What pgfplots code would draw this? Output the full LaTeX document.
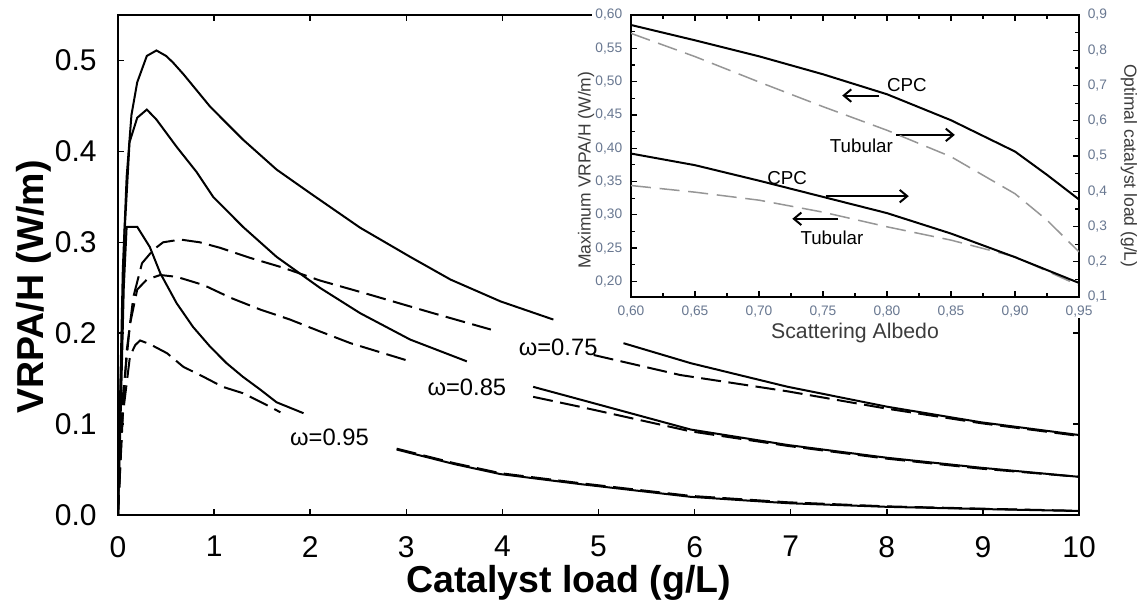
\documentclass[border=0pt]{standalone}
\usepackage{fontspec}
\setmainfont{Liberation Sans}
\usepackage{pgfplots}
\pgfplotsset{compat=1.18}
\usetikzlibrary{arrows.meta}
\definecolor{tickblue}{RGB}{105,120,145}
\definecolor{labgray}{RGB}{60,60,60}
\definecolor{dashgray}{RGB}{150,150,150}
\begin{document}
\begin{tikzpicture}
\useasboundingbox (-47.2pt,-35.6pt) rectangle (409.2pt,206pt);
\begin{axis}[
  at={(0,0)}, anchor=south west,
  scale only axis, width=384.4pt, height=200pt,
  xmin=0, xmax=10, ymin=0, ymax=0.55,
  xtick={0,1,2,3,4,5,6,7,8,9,10}, ytick={0,0.1,0.2,0.3,0.4,0.5},
  /pgf/number format/assume math mode=true,
  tick label style={font=\fontsize{12}{14}\selectfont},
  xticklabel style={yshift=-5pt},
  yticklabel style={xshift=-5pt, /pgf/number format/.cd, fixed, fixed zerofill, precision=1},
  xlabel={Catalyst load (g/L)}, ylabel={VRPA/H (W/m)},
  label style={font=\fontsize{15}{18}\selectfont\bfseries},
  xlabel style={at={(axis description cs:0.469,-0.136)}, anchor=center},
  ylabel style={at={(axis description cs:-0.0874,0.456)}, anchor=center},
  axis line style={line width=0.6pt},
  major tick length=2.5pt,
  every tick/.style={black, line width=0.6pt},
]
% omega = 0.75 CPC
\addplot[black, line width=0.8pt] coordinates {(0,0) (0.02,0.12) (0.05,0.27) (0.09,0.372) (0.14,0.44) (0.2,0.476) (0.3,0.505) (0.4,0.511) (0.5,0.505) (0.57,0.498) (0.68,0.485) (0.96,0.449) (1.3,0.413) (1.65,0.38) (2.0,0.354) (2.52,0.316) (3.04,0.284) (3.46,0.259) (3.98,0.235) (4.53,0.215)};
\addplot[black, line width=0.8pt] coordinates {(5.26,0.189) (5.96,0.167) (6.97,0.141) (8.01,0.119) (8.98,0.102) (10,0.088)};
% omega = 0.75 Tubular
\addplot[black, line width=0.8pt, dash pattern=on 8pt off 3pt] coordinates {(0,0) (0.04,0.094) (0.09,0.18) (0.16,0.24) (0.25,0.277) (0.37,0.292) (0.47,0.30) (0.65,0.303) (0.85,0.30) (1.06,0.294) (1.37,0.283) (1.72,0.272) (2.1,0.258) (2.6,0.243) (3.28,0.222) (3.88,0.204)};
\addplot[black, line width=0.8pt, dash pattern=on 8pt off 3pt] coordinates {(4.95,0.176) (5.85,0.154) (6.97,0.136) (8.0,0.117) (8.98,0.101) (10,0.087)};
% omega = 0.85 CPC
\addplot[black, line width=0.8pt] coordinates {(0,0) (0.03,0.15) (0.07,0.314) (0.12,0.41) (0.2,0.437) (0.3,0.446) (0.4,0.435) (0.61,0.405) (0.82,0.377) (0.99,0.35) (1.3,0.317) (1.65,0.284) (2.1,0.25) (2.52,0.222) (3.04,0.193) (3.63,0.169)};
\addplot[black, line width=0.8pt] coordinates {(4.32,0.141) (4.81,0.127) (5.96,0.094) (6.97,0.077) (8.0,0.063) (8.98,0.052) (10,0.042)};
% omega = 0.85 Tubular
\addplot[black, line width=0.8pt, dash pattern=on 8pt off 3pt] coordinates {(0,0) (0.05,0.13) (0.125,0.21) (0.2,0.248) (0.3,0.259) (0.44,0.264) (0.61,0.262) (0.89,0.253) (1.17,0.239) (1.48,0.226) (1.79,0.215) (2.1,0.202) (2.42,0.189) (3.04,0.169)};
\addplot[black, line width=0.8pt, dash pattern=on 8pt off 3pt] coordinates {(4.32,0.13) (4.81,0.119) (5.96,0.092) (6.97,0.076) (8.0,0.062) (8.98,0.051) (10,0.042)};
% omega = 0.95 CPC
\addplot[black, line width=0.8pt] coordinates {(0,0) (0.03,0.12) (0.06,0.25) (0.09,0.317) (0.2,0.317) (0.33,0.295) (0.44,0.266) (0.61,0.233) (0.78,0.207) (0.96,0.185) (1.13,0.167) (1.3,0.152) (1.48,0.138) (1.65,0.124) (1.93,0.112)};
\addplot[black, line width=0.8pt] coordinates {(2.9,0.072) (3.5,0.056) (3.98,0.045) (4.81,0.034) (5.96,0.020) (6.97,0.013) (8.0,0.009) (8.98,0.0066) (10,0.0044)};
% omega = 0.95 Tubular
\addplot[black, line width=0.8pt, dash pattern=on 8pt off 3pt] coordinates {(0,0) (0.05,0.11) (0.125,0.175) (0.18,0.187) (0.23,0.192) (0.33,0.188) (0.51,0.178) (0.68,0.163) (0.89,0.152) (1.09,0.141) (1.3,0.134) (1.51,0.123) (1.69,0.113)};
\addplot[black, line width=0.8pt, dash pattern=on 8pt off 3pt] coordinates {(2.9,0.073) (3.5,0.057) (3.98,0.046) (4.81,0.035) (5.96,0.021) (6.97,0.014) (8.0,0.0095) (8.98,0.007) (10,0.0046)};
\node[font=\fontsize{9.5}{11}\selectfont] at (axis cs:4.58,0.185) {ω=0.75};
\node[font=\fontsize{9.5}{11}\selectfont] at (axis cs:3.63,0.140) {ω=0.85};
\node[font=\fontsize{9.5}{11}\selectfont] at (axis cs:2.20,0.085) {ω=0.95};
\end{axis}
\fill[white] (189.6pt,78.8pt) rectangle (409.2pt,206pt);
% inset, left axis
\begin{axis}[
  at={(205.2pt,87.2pt)}, anchor=south west,
  scale only axis, width=179.2pt, height=112.8pt,
  xmin=0.6, xmax=0.95, ymin=0.1766, ymax=0.6,
  xtick={0.6,0.65,0.7,0.75,0.8,0.85,0.9,0.95},
  ytick={0.2,0.25,0.3,0.35,0.4,0.45,0.5,0.55,0.6},
  minor x tick num=1, minor y tick num=1,
  ytick pos=left,
  /pgf/number format/assume math mode=true,
  tick label style={font=\fontsize{5.5}{6.5}\selectfont, text=tickblue},
  xticklabel style={/pgf/number format/.cd, use comma, fixed, fixed zerofill, precision=2},
  yticklabel style={/pgf/number format/.cd, use comma, fixed, fixed zerofill, precision=2},
  xlabel={Scattering Albedo}, ylabel={Maximum VRPA/H (W/m)},
  xlabel style={font=\fontsize{8.5}{10}\selectfont, text=labgray, at={(axis description cs:0.5,-0.128)}, anchor=center},
  ylabel style={font=\fontsize{7}{8.5}\selectfont, text=labgray, at={(axis description cs:-0.1,0.45)}, anchor=center},
  axis line style={line width=0.6pt},
  major tick length=2.5pt, minor tick length=1.5pt,
  every tick/.style={black, line width=0.5pt},
  clip=false,
]
\addplot[black, line width=0.8pt] coordinates {(0.60,0.585) (0.65,0.562) (0.70,0.538) (0.75,0.511) (0.80,0.481) (0.85,0.442) (0.90,0.395) (0.925,0.36) (0.95,0.323)};
\addplot[dashgray, line width=0.6pt, dash pattern=on 8pt off 3.5pt] coordinates {(0.60,0.344) (0.65,0.334) (0.70,0.322) (0.75,0.304) (0.80,0.282) (0.85,0.262) (0.90,0.237) (0.95,0.194)};
\node[font=\fontsize{7.5}{9}\selectfont] at (axis cs:0.8156,0.495) {CPC};
\draw[line width=0.8pt, -{Straight Barb[length=3pt,width=5pt]}] (axis cs:0.794,0.479) -- (axis cs:0.765,0.479);
\node[font=\fontsize{7.5}{9}\selectfont] at (axis cs:0.78,0.403) {Tubular};
\draw[line width=0.8pt, -{Straight Barb[length=3pt,width=5pt]}] (axis cs:0.807,0.42) -- (axis cs:0.853,0.42);
\node[font=\fontsize{7.5}{9}\selectfont] at (axis cs:0.722,0.355) {CPC};
\draw[line width=0.8pt, -{Straight Barb[length=3pt,width=5pt]}] (axis cs:0.752,0.328) -- (axis cs:0.817,0.328);
\node[font=\fontsize{7.5}{9}\selectfont] at (axis cs:0.757,0.266) {Tubular};
\draw[line width=0.8pt, -{Straight Barb[length=3pt,width=5pt]}] (axis cs:0.762,0.294) -- (axis cs:0.726,0.294);
\end{axis}
% inset, right axis
\begin{axis}[
  at={(205.2pt,87.2pt)}, anchor=south west,
  scale only axis, width=179.2pt, height=112.8pt,
  xmin=0.6, xmax=0.95, ymin=0.1, ymax=0.9,
  hide x axis, axis y line*=right, tick align=inside,
  ytick={0.1,0.2,0.3,0.4,0.5,0.6,0.7,0.8,0.9},
  minor y tick num=1,
  /pgf/number format/assume math mode=true,
  tick label style={font=\fontsize{5.5}{6.5}\selectfont, text=tickblue},
  yticklabel style={/pgf/number format/.cd, use comma, fixed, fixed zerofill, precision=1},
  ylabel={Optimal catalyst load (g/L)},
  ylabel style={font=\fontsize{7}{8.5}\selectfont, text=labgray, rotate=180, at={(axis description cs:1.1116,0.465)}, anchor=center},
  axis line style={line width=0.6pt},
  major tick length=2.5pt, minor tick length=1.5pt,
  every tick/.style={black, line width=0.5pt},
]
\addplot[dashgray, line width=0.6pt, dash pattern=on 8pt off 3.5pt] coordinates {(0.60,0.848) (0.65,0.782) (0.70,0.71) (0.75,0.64) (0.80,0.573) (0.85,0.498) (0.90,0.393) (0.925,0.318) (0.95,0.228)};
\addplot[black, line width=0.8pt] coordinates {(0.60,0.507) (0.65,0.474) (0.70,0.43) (0.75,0.384) (0.80,0.338) (0.85,0.28) (0.90,0.213) (0.95,0.14)};
\end{axis}
\end{tikzpicture}
\end{document}
